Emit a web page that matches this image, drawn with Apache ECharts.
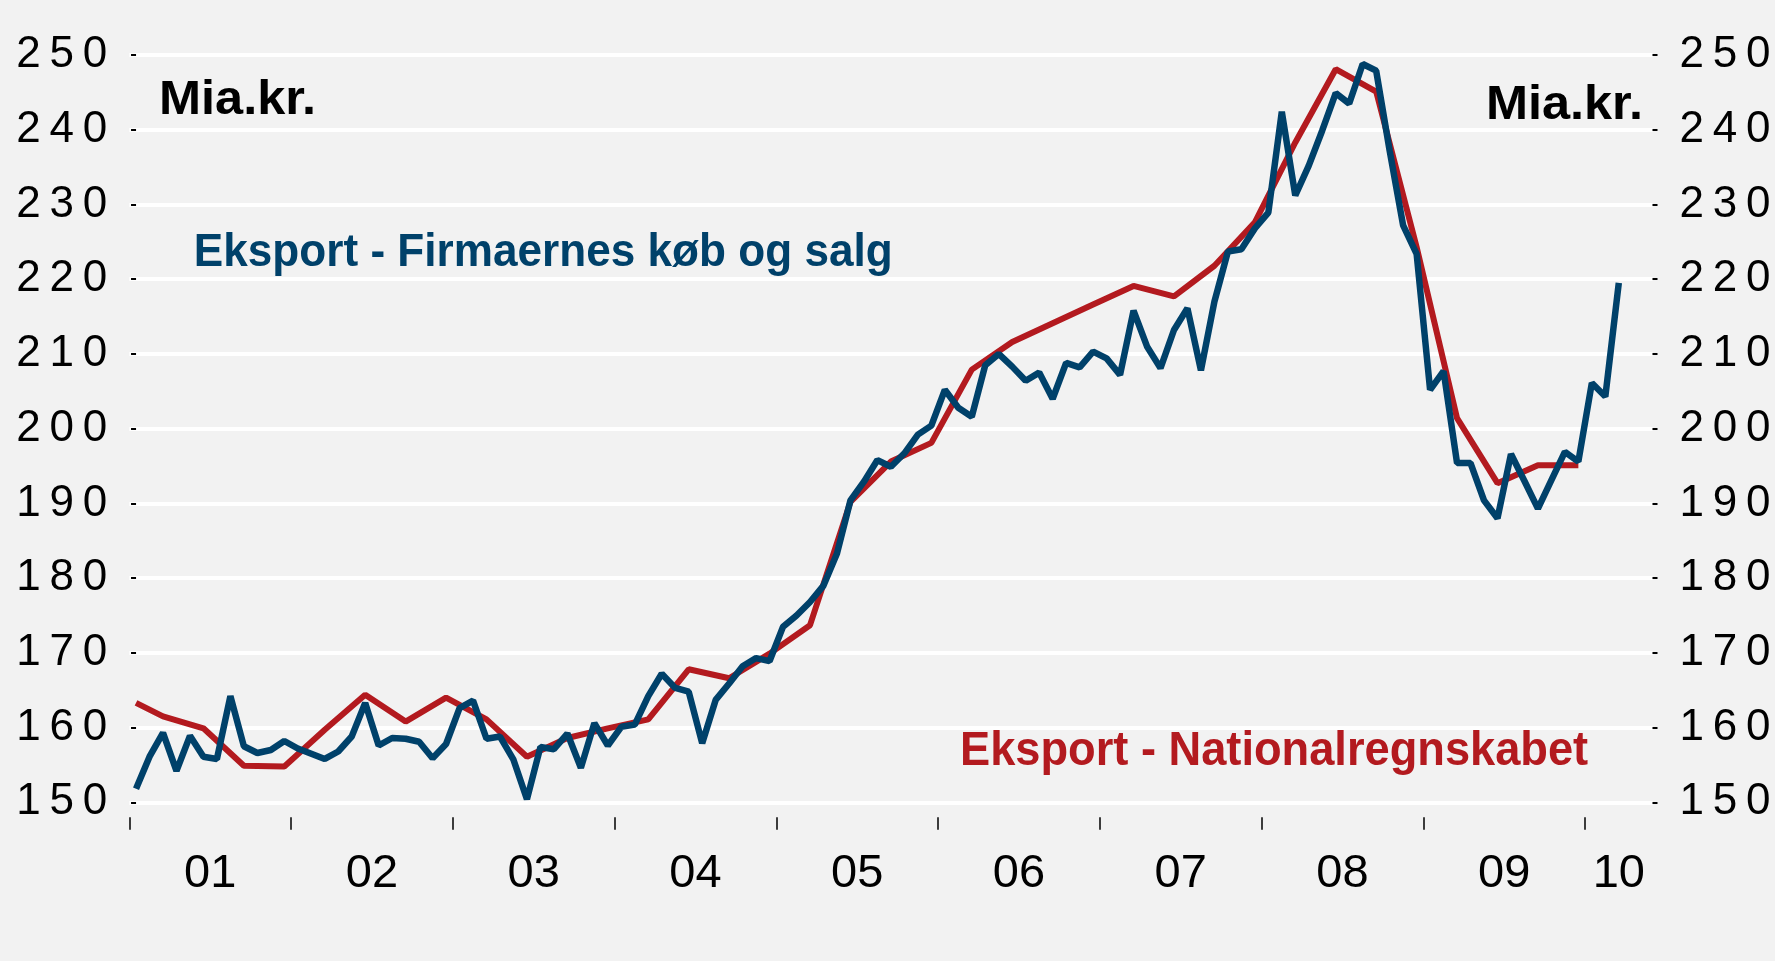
<!DOCTYPE html>
<html>
<head>
<meta charset="utf-8">
<title>Eksport</title>
<script src="https://cdn.jsdelivr.net/npm/echarts@6/dist/echarts.min.js"></script>
<style>
html,body{margin:0;padding:0;background:#f2f2f2;}
#chart{width:1775px;height:961px;}
</style>
</head>
<body>
<div id="chart"></div>
<script>
// ---- Data ----
const yearLabels = ['01','02','03','04','05','06','07','08','09','10'];
const yTicks = [150,160,170,180,190,200,210,220,230,240,250];
const axisStart = '2001-01';
const axisEnd = '2010-05';

// Eksport - Firmaernes køb og salg (monthly, Jan 2001 - Mar 2010), mia. kr.
const firmStart = '2001-01';
const firmValues = [
  151.8,156.1,159.3,154.2,158.9,156.1,155.8,164.2,157.5,156.6,157.0,158.2,
  157.2,156.5,155.8,156.8,158.8,163.3,157.6,158.6,158.5,158.1,155.9,157.8,
  162.6,163.6,158.5,158.8,155.7,150.4,157.4,157.1,159.2,154.6,160.6,157.6,
  160.1,160.4,164.2,167.2,165.3,164.8,157.9,163.7,165.9,168.2,169.3,168.9,
  173.5,175.0,176.8,179.0,183.3,190.4,192.9,195.8,194.9,196.7,199.2,200.4,
  205.2,202.8,201.6,208.5,210.0,208.3,206.4,207.5,204.0,208.8,208.2,210.3,
  209.4,207.2,215.8,211.0,208.1,213.2,216.1,207.8,217.0,223.7,224.0,226.8,
  228.9,242.4,231.2,235.2,239.9,244.9,243.5,248.8,247.9,237.2,227.2,223.4,
  205.2,207.7,195.4,195.4,190.4,188.0,196.6,193.0,189.3,193.1,196.9,195.6,
  206.1,204.3,219.5
];

// Eksport - Nationalregnskabet (quarterly), mia. kr.
const nationalPeriods = [
  '2001-01','2001-03','2001-06','2001-09','2001-12',
  '2002-03','2002-06','2002-09','2002-12',
  '2003-03','2003-06','2003-09','2003-12',
  '2004-03','2004-06','2004-09','2004-12',
  '2005-03','2005-06','2005-09','2005-12',
  '2006-03','2006-06','2006-09','2006-12',
  '2007-03','2007-06','2007-09','2007-12',
  '2008-03','2008-06','2008-09','2008-12',
  '2009-03','2009-06','2009-09','2009-12'
];
const nationalValues = [
  163.3,161.5,159.9,154.9,154.8,
  159.7,164.4,160.8,164.0,
  161.1,156.1,158.6,159.9,
  161.1,167.8,166.6,169.9,
  173.7,190.2,195.6,198.1,
  207.9,211.6,214.1,216.6,
  219.1,217.7,221.8,227.6,
  238.3,248.1,245.1,224.3,
  201.4,192.7,195.1,195.1
];

// ---- Build ----
function monthIndex(p){
  const [y,m] = p.split('-').map(Number);
  const [y0,m0] = axisStart.split('-').map(Number);
  return (y - y0) * 12 + (m - m0);
}
const lastIdx = monthIndex(axisEnd);
const firmOffset = monthIndex(firmStart);
const firmData = firmValues.map((v,i) => [firmOffset + i, v]);
const nationalData = nationalPeriods.map((p,i) => [monthIndex(p), nationalValues[i]]);

// year boundaries (ticks) and year label positions (centre of available months)
const yearTickPos = yearLabels.map((_,k) => k * 12 - 0.5);
const yearLabelPos = yearLabels.map((_,k) => {
  const a = k * 12 - 0.5;
  const b = Math.min((k + 1) * 12 - 0.5, lastIdx + 0.5);
  return (a + b) / 2;
});
function yearLabelFor(v){
  let best = 0, bd = Infinity;
  yearLabelPos.forEach((p,k) => { const d = Math.abs(p - v); if (d < bd){ bd = d; best = k; } });
  return yearLabels[best];
}
const spaced = v => String(v).split('').join('\u2009');

const BLUE = '#00416A';
const RED = '#B31A1F';
const FONT = '"Liberation Sans", Arial, sans-serif';

const chart = echarts.init(document.getElementById('chart'), null, {renderer:'canvas'});
const yCommon = {
  type:'value', min:yTicks[0], max:yTicks[yTicks.length-1], interval:10,
  axisLine:{show:false},
  axisTick:{show:true, length:5, lineStyle:{color:'#000', width:2}},
  axisLabel:{fontSize:44, color:'#000', fontFamily:FONT, formatter:spaced}
};
chart.setOption({
  backgroundColor:'#f2f2f2',
  animation:false,
  grid:{left:129.3, right:122.5, top:55, bottom:158.7, containLabel:false, outerBoundsMode:'none'},
  xAxis:{
    type:'value', min:-0.5, max:lastIdx + 0.5,
    offset:15,
    axisLine:{show:false},
    splitLine:{show:false},
    axisTick:{show:true, customValues:yearTickPos, length:12.5, lineStyle:{color:'#000', width:1.5}},
    axisLabel:{show:true, customValues:yearLabelPos, formatter:yearLabelFor, fontSize:47, color:'#000',
      fontFamily:FONT, margin:33, hideOverlap:false}
  },
  yAxis:[
    Object.assign({}, yCommon, {position:'left',
      axisLabel:Object.assign({}, yCommon.axisLabel, {margin:22}),
      splitLine:{show:true, lineStyle:{color:'#ffffff', width:4}}}),
    Object.assign({}, yCommon, {position:'right',
      axisLabel:Object.assign({}, yCommon.axisLabel, {margin:27}),
      splitLine:{show:false}})
  ],
  series:[
    {type:'line', name:'Eksport - Nationalregnskabet', data:nationalData, symbol:'none',
     lineStyle:{color:RED, width:6}, z:2},
    {type:'line', name:'Eksport - Firmaernes køb og salg', data:firmData, symbol:'none',
     lineStyle:{color:BLUE, width:6.5}, z:3}
  ],
  graphic:[
    {type:'text', x:159, y:100.5, scaleX:1.03, z:10,
     style:{text:'Mia.kr.', font:'bold 49px ' + FONT, fill:'#000', align:'left', verticalAlign:'middle', textAlign:'left', textVerticalAlign:'middle'}},
    {type:'text', x:1643, y:105.5, scaleX:1.03, z:10,
     style:{text:'Mia.kr.', font:'bold 49px ' + FONT, fill:'#000', align:'right', verticalAlign:'middle', textAlign:'right', textVerticalAlign:'middle'}},
    {type:'text', x:193.8, y:253.5, scaleX:0.97, z:10,
     style:{text:'Eksport - Firmaernes køb og salg', font:'bold 45.5px ' + FONT, fill:BLUE, align:'left', verticalAlign:'middle', textAlign:'left', textVerticalAlign:'middle'}},
    {type:'text', x:960, y:751.5, scaleX:0.942, z:10,
     style:{text:'Eksport - Nationalregnskabet', font:'bold 48px ' + FONT, fill:RED, align:'left', verticalAlign:'middle', textAlign:'left', textVerticalAlign:'middle'}}
  ]
});
</script>
</body>
</html>
